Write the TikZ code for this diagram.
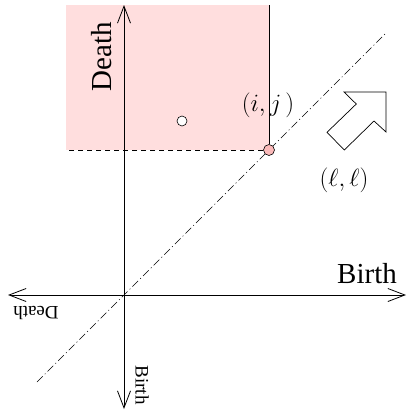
\documentclass[tikz,border=0pt]{standalone}
\usepackage{fontspec}
\setmainfont{Liberation Serif}
\usetikzlibrary{arrows.meta}
\definecolor{regionpink}{RGB}{255,222,222}
\definecolor{ptpink}{RGB}{250,185,185}
\tikzset{
  axis/.style={line width=0.8pt,-{Straight Barb[length=17pt,width=13pt,line width=0.8pt]}},
  diag/.style={line width=0.6pt,dash pattern=on 8pt off 3pt on 1pt off 3pt},
  bigtxt/.style={font=\fontsize{29}{32}\selectfont,inner sep=0pt},
  smalltxt/.style={font=\fontsize{19}{22}\selectfont,inner sep=0pt},
  mathtxt/.style={font=\fontsize{23}{26}\selectfont,inner sep=0pt},
  dot/.style={circle,draw,line width=0.6pt,minimum size=11pt,inner sep=0pt}
}
\begin{document}
\begin{tikzpicture}[x=1pt,y=-1pt]
\useasboundingbox (0,0) rectangle (407,410);
% region
\fill[regionpink] (66,5) rectangle (269,150);
\coordinate (O) at (124,295);
\coordinate (top) at (124,5);
\coordinate (bot) at (124,409);
\coordinate (left) at (8,295);
\coordinate (right) at (406,295);
\coordinate (d1) at (37,382);
\coordinate (d2) at (385,34);
\coordinate (rtop) at (269,5);
\coordinate (lcorner) at (66,150);
\draw[diag] (d1) -- (d2);
\draw[axis] (O) -- (top);
\draw[axis] (O) -- (bot);
\draw[axis] (O) -- (left);
\draw[axis] (O) -- (right);
\node[dot,fill=ptpink] (ij) at (269,150) {};
\node[dot,fill=white,minimum size=10pt] (pt) at (182,121) {};
\draw[line width=0.6pt] (ij.north) -- (rtop);
\draw[line width=0.6pt,dashed,dash pattern=on 5pt off 4pt] (ij.west) -- (lcorner);
% block arrow
\draw[line width=0.7pt,line join=miter] (344,92) -- (386,92) -- (386,132) -- (374,121) -- (344.3,150) -- (327,132.3) -- (356.3,104) -- cycle;
% labels
\node[bigtxt,rotate=90] (death) at (102,57) {Death};
\node[bigtxt] (birth) at (367,274) {Birth};
\node[smalltxt,rotate=180] (death2) at (36,313) {Death};
\node[smalltxt,rotate=-90] (birth2) at (142,385) {Birth};
\node[mathtxt] (lij) at (268,105) {$(i,j\,)$};
\node[mathtxt] (lll) at (344,180) {$(\ell,\ell)$};
\end{tikzpicture}
\end{document}
